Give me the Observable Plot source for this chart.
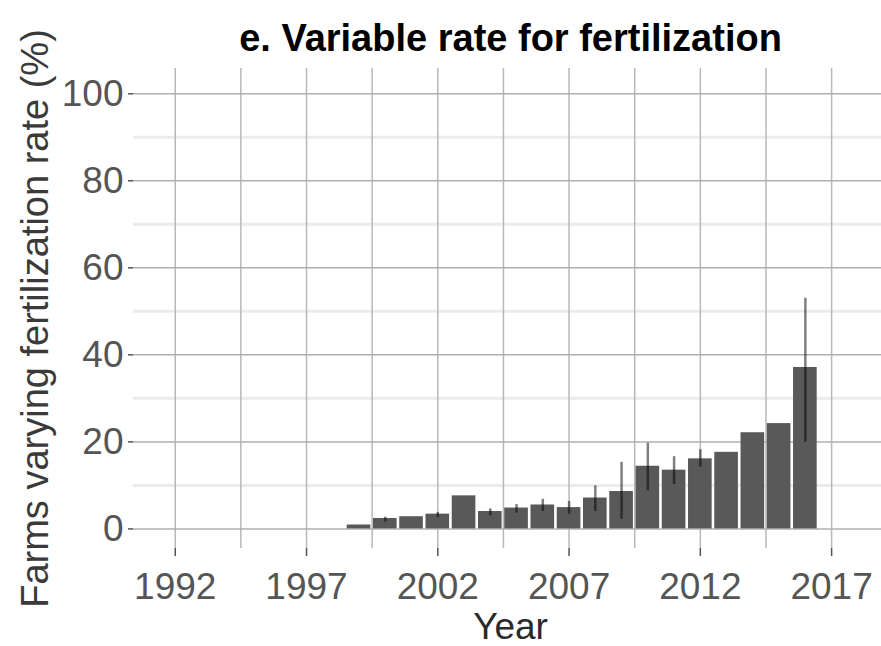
<!DOCTYPE html>
<html>
<head>
<meta charset="utf-8">
<script src="https://cdn.jsdelivr.net/npm/d3@7"></script>
<script src="https://cdn.jsdelivr.net/npm/@observablehq/plot@0.6"></script>
<style>
  html, body { margin: 0; padding: 0; background: #fff; }
  svg { display: block; }
</style>
</head>
<body>
<div id="chart"></div>
<script>
const years   = [1999, 2000, 2001, 2002, 2003, 2004, 2005, 2006, 2007, 2008, 2009, 2010, 2011, 2012, 2013, 2014, 2015, 2016];
const values  = [0.9, 2.4, 2.8, 3.4, 7.6, 4.0, 4.8, 5.5, 4.9, 7.1, 8.6, 14.4, 13.5, 16.1, 17.6, 22.1, 24.2, 37.1];
const errLow  = [null, 1.6, null, 2.6, null, 3.0, 3.6, 4.0, 3.4, 4.0, 2.2, 8.8, 10.2, 14.2, null, null, null, 19.9];
const errHigh = [null, 2.7, null, 3.8, null, 4.6, 5.6, 6.8, 6.3, 9.9, 15.3, 19.7, 16.6, 18.2, null, null, null, 53.0];
const xTicks  = [1992, 1997, 2002, 2007, 2012, 2017];
const xMinor  = [1994.5, 1999.5, 2004.5, 2009.5, 2014.5];
const yTicks  = [0, 20, 40, 60, 80, 100];
const yMinor  = [10, 30, 50, 70, 90];
const titleText = "e. Variable rate for fertilization";
const xLabel = "Year";
const yLabel = "Farms varying fertilization rate (%)";

const data = years.map((year, i) => ({year, value: values[i], lo: errLow[i], hi: errHigh[i]}));
const errData = data.filter(d => d.lo != null);
const font = "'Liberation Sans', Arial, Helvetica, sans-serif";

const chart = Plot.plot({
  width: 881,
  height: 646,
  marginTop: 68,
  marginBottom: 98,
  marginLeft: 133,
  marginRight: 0,
  style: {fontFamily: font, background: "#fff", color: "#000"},
  x: {domain: [1990.41, 2018.9]},
  y: {domain: [-4.5, 105.8]},
  marks: [
    Plot.gridY(yMinor, {stroke: "#ebebeb", strokeOpacity: 1, strokeWidth: 3}),
    Plot.gridX([...xTicks, ...xMinor], {stroke: "#b8b8b8", strokeOpacity: 1, strokeWidth: 1.5}),
    Plot.gridY(yTicks, {stroke: "#b0b0b0", strokeOpacity: 1, strokeWidth: 1.5}),
    Plot.rectY(data, {x1: d => d.year - 0.45, x2: d => d.year + 0.45, y1: 0, y2: "value", fill: "#595959"}),
    Plot.ruleX(errData, {x: "year", y1: "lo", y2: "hi", stroke: "#000", strokeOpacity: 0.5, strokeWidth: 2.5}),
    Plot.axisX(xTicks, {tickSize: 8, tickPadding: 16, fontSize: 37, color: "#555", strokeWidth: 1.5, tickFormat: "d", label: null}),
    Plot.axisY(yTicks, {tickSize: 5, tickPadding: 5, fontSize: 37, color: "#555", strokeWidth: 1.5, tickFormat: "d", label: null}),
    Plot.text([titleText], {frameAnchor: "top", dx: 3, dy: -18, lineAnchor: "bottom", fontSize: 38, fontWeight: "bold", fill: "#000"}),
    Plot.text([xLabel], {frameAnchor: "bottom", dx: 3, dy: 90, lineAnchor: "bottom", fontSize: 37, fill: "#2a2a2a"}),
    Plot.text([yLabel], {frameAnchor: "left", dx: -86, dy: 10, rotate: -90, textAnchor: "middle", lineAnchor: "bottom", fontSize: 38, fill: "#3a3a3a"})
  ]
});
document.getElementById("chart").appendChild(chart);
</script>
</body>
</html>
